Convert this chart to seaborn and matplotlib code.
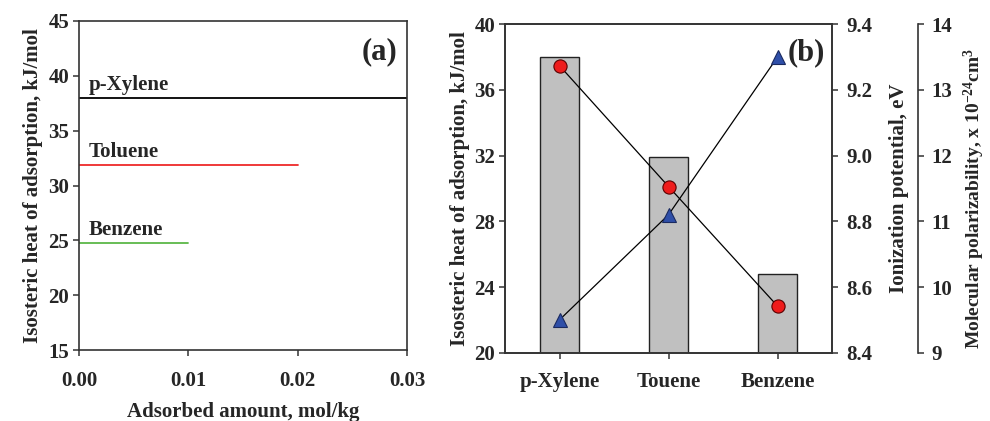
import numpy as np
import pandas as pd
import matplotlib
matplotlib.use("Agg")
import matplotlib.pyplot as plt
import seaborn as sns
from matplotlib.ticker import FormatStrFormatter, MultipleLocator

# Panel (a): isosteric heat vs adsorbed amount
adsorbates = ["p-Xylene", "Toluene", "Benzene"]
heat_a = [38.0, 31.9, 24.8]
amount_max = [0.03, 0.02, 0.01]
line_colors = ["black", "#ee2a2a", "#5cb848"]

# Panel (b): heat bars + ionization potential + polarizability
categories = ["p-Xylene", "Touene", "Benzene"]
heat_b = [38.0, 31.9, 24.8]
ionization = [8.50, 8.82, 9.30]
polarizability = [13.37, 11.53, 9.71]

sns.set_style("ticks")
plt.rcParams["font.family"] = ["Liberation Serif", "DejaVu Serif"]
plt.rcParams["font.weight"] = "bold"
plt.rcParams["axes.labelweight"] = "bold"
plt.rcParams["mathtext.fontset"] = "custom"
plt.rcParams["mathtext.rm"] = "Liberation Serif:bold"
plt.rcParams["mathtext.it"] = "Liberation Serif:bold"
plt.rcParams["mathtext.bf"] = "Liberation Serif:bold"

W, H = 990, 421
fig = plt.figure(figsize=(W / 100, H / 100), dpi=100)

spine_c = "#333333"
tick_fs = 15
label_fs = 15


def style_axis(ax):
    for s in ax.spines.values():
        s.set_color(spine_c)
        s.set_linewidth(1.2)
    ax.tick_params(direction="out", length=4, width=1.1, color=spine_c,
                   labelsize=tick_fs, pad=3)


# ---------------- panel (a) ----------------
ax1 = fig.add_axes([79 / W, (H - 350) / H, 328 / W, 329 / H])
df_a = pd.DataFrame({
    "adsorbate": np.repeat(adsorbates, 2),
    "amount": [v for m in amount_max for v in (0.0, m)],
    "heat": np.repeat(heat_a, 2),
})
sns.lineplot(data=df_a, x="amount", y="heat", hue="adsorbate",
             palette=dict(zip(adsorbates, line_colors)), linewidth=1.3,
             legend=False, ax=ax1)
for name, h in zip(adsorbates, heat_a):
    ax1.text(0.0009, h + 1.15, name, fontsize=15, fontweight="bold",
             va="center", ha="left")
ax1.set_xlim(0, 0.03)
ax1.set_ylim(15, 45)
ax1.xaxis.set_major_locator(MultipleLocator(0.01))
ax1.xaxis.set_major_formatter(FormatStrFormatter("%.2f"))
ax1.yaxis.set_major_locator(MultipleLocator(5))
style_axis(ax1)
ax1.tick_params(axis="x", pad=11)
ax1.set_xlabel("Adsorbed amount, mol/kg", fontsize=label_fs, labelpad=8)
ax1.set_ylabel("Isosteric heat of adsorption, kJ/mol", fontsize=label_fs,
               labelpad=4)
ax1.text(0.862, 0.906, "(a)", transform=ax1.transAxes, fontsize=22,
         fontweight="bold", va="center", ha="left")

# ---------------- panel (b) ----------------
ax2 = fig.add_axes([505 / W, (H - 352.7) / H, 327 / W, 328.4 / H])
sns.barplot(x=categories, y=heat_b, color="#c0c0c0", edgecolor="#222222",
            linewidth=1.0, width=0.35, saturation=1, ax=ax2)
ax2.set_ylim(20, 40)
ax2.yaxis.set_major_locator(MultipleLocator(4))
style_axis(ax2)
ax2.tick_params(axis="x", pad=10)
ax2.set_ylabel("Isosteric heat of adsorption, kJ/mol", fontsize=label_fs,
               labelpad=3)

xpos = np.arange(len(categories))

ax3 = ax2.twinx()
sns.lineplot(x=xpos, y=ionization, color="black", linewidth=0.9,
             marker="^", markersize=10, markerfacecolor="#2f4fa8",
             markeredgecolor="#1a2a60", markeredgewidth=0.8, ax=ax3)
ax3.set_ylim(8.4, 9.4)
ax3.yaxis.set_major_locator(MultipleLocator(0.2))
ax3.yaxis.set_major_formatter(FormatStrFormatter("%.1f"))
style_axis(ax3)
ax3.tick_params(axis="y", pad=6)
ax3.set_ylabel("Ionization potential, eV", fontsize=label_fs, labelpad=12)

ax4 = ax2.twinx()
sns.lineplot(x=xpos, y=polarizability, color="black", linewidth=0.9,
             marker="o", markersize=9.5, markerfacecolor="#ee1c1c",
             markeredgecolor="#5a0000", markeredgewidth=0.8, ax=ax4)
ax4.set_ylim(9, 14)
ax4.yaxis.set_major_locator(MultipleLocator(1))
ax4.spines["right"].set_position(("axes", (917.7 - 505) / 327))
for s in ["top", "bottom", "left"]:
    ax4.spines[s].set_visible(False)
style_axis(ax4)
ax4.tick_params(axis="y", pad=6)
ax4.set_ylabel(r"Molecular polarizability, x 10$^{-24}$cm$^{3}$",
               fontsize=14, labelpad=7)
ax4.yaxis.label.set_y(0.47)

for ax in (ax2, ax3, ax4):
    ax.set_xlim(-0.5, 2.5)
ax2.text(0.865, 0.913, "(b)", transform=ax2.transAxes, fontsize=22,
         fontweight="bold", va="center", ha="left", zorder=10)

fig.savefig("out.png", dpi=100)
